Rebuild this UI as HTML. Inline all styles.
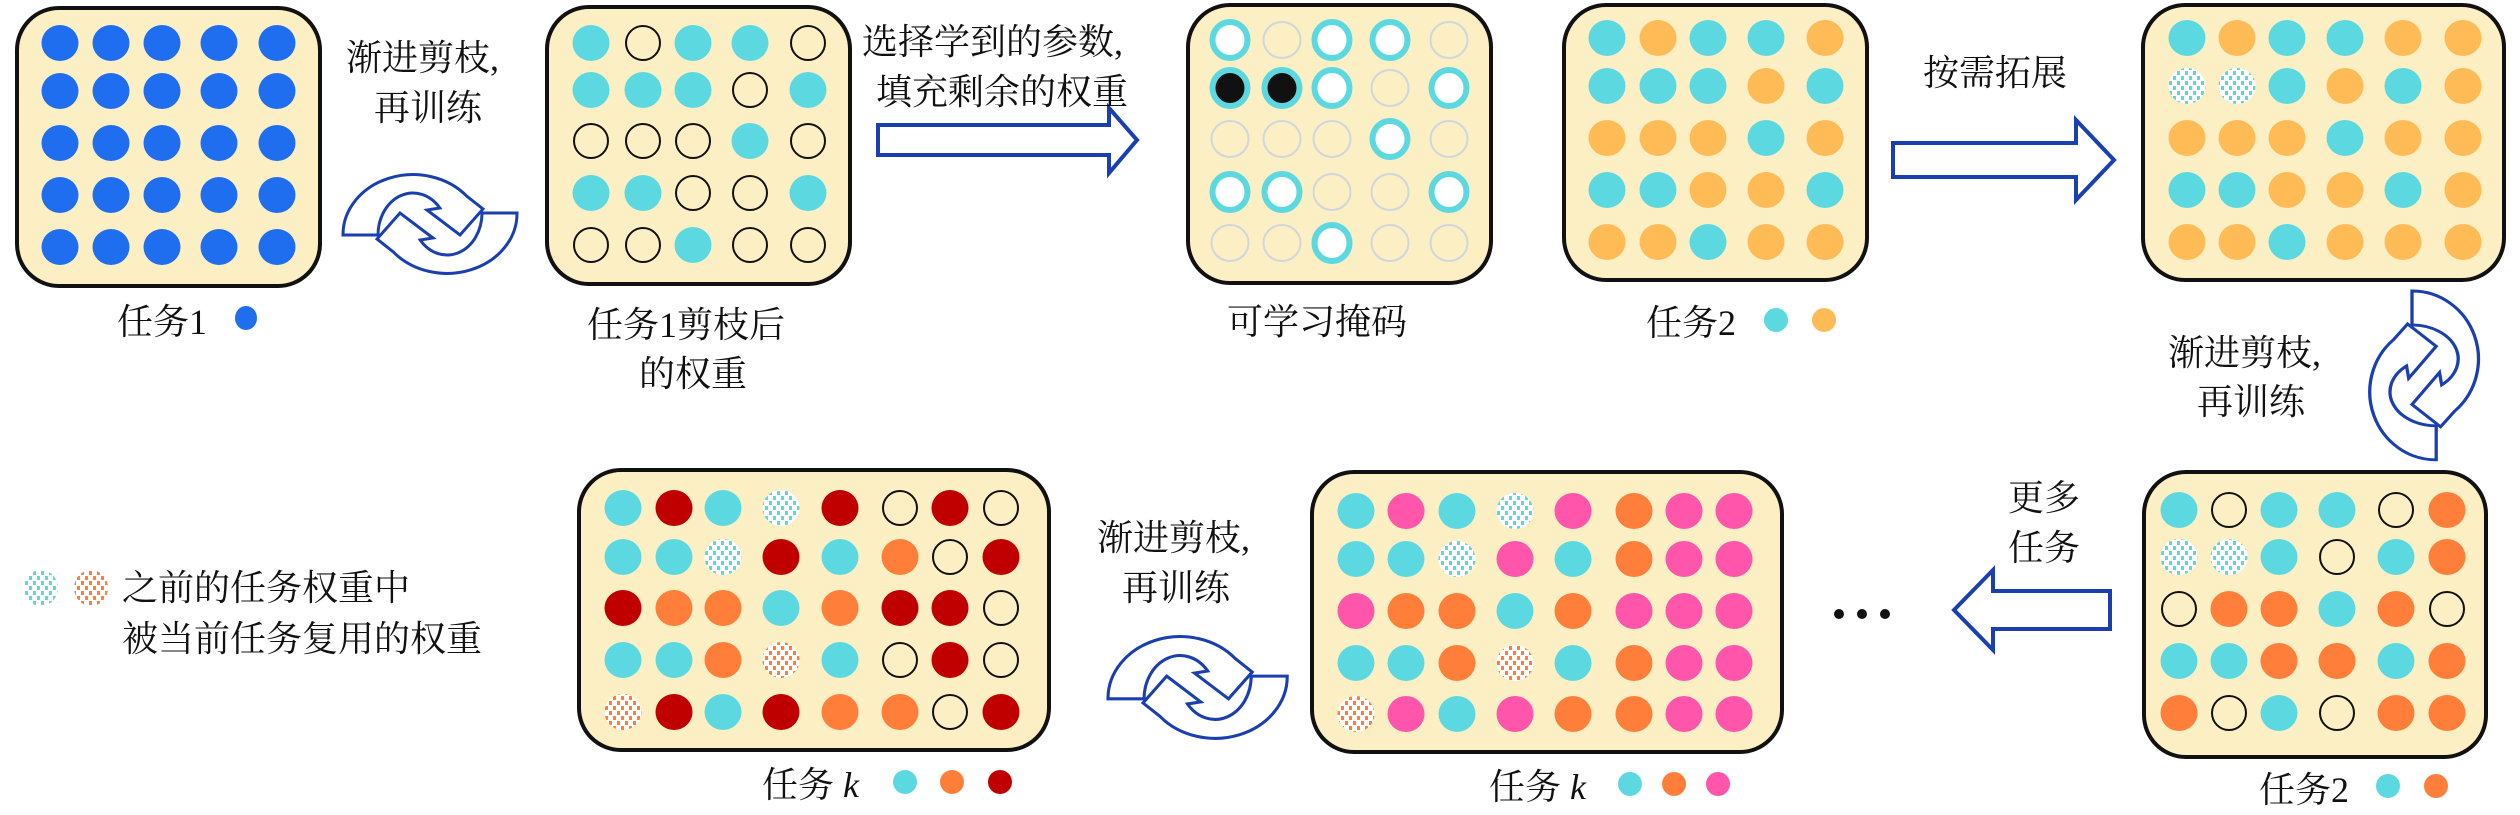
<!DOCTYPE html>
<html><head><meta charset="utf-8"><style>
html,body{margin:0;padding:0;background:#fff;}
svg{display:block;}
text{font-family:"Liberation Serif","Noto Serif CJK SC",serif;font-size:36px;fill:#111;}
</style></head><body>
<svg id="s" width="2520" height="815" viewBox="0 0 2520 815" xmlns="http://www.w3.org/2000/svg">
<defs>
<pattern id="pc" width="8" height="10" patternUnits="userSpaceOnUse"><rect width="8" height="10" fill="#fff"/><rect x="1" y="1" width="3" height="4" fill="#5cd9e0"/><rect x="5" y="6" width="3" height="4" fill="#5cd9e0"/></pattern>
<pattern id="po" width="8" height="10" patternUnits="userSpaceOnUse"><rect width="8" height="10" fill="#fff"/><rect x="1" y="1" width="3" height="4" fill="#ff7f3a"/><rect x="5" y="6" width="3" height="4" fill="#ff7f3a"/></pattern>
<g id="cyc" fill="none" stroke="#1a3fb0" stroke-width="3" stroke-linejoin="miter">
<path d="M0,60 A70,60 0 0 1 123.6,21 L140,34 L117,60 L84,35 L96.8,33 A35,42 0 0 0 35,60 Z"/>
<path transform="rotate(180 87 49)" d="M0,60 A70,60 0 0 1 123.6,21 L140,34 L117,60 L84,35 L96.8,33 A35,42 0 0 0 35,60 Z"/>
</g>
</defs>
<g fill="#fcefc4" stroke="#111" stroke-width="4">
<rect x="17" y="8" width="303" height="278" rx="42"/>
<rect x="547" y="7" width="303" height="277" rx="42"/>
<rect x="1188" y="5" width="303" height="278" rx="42"/>
<rect x="1564" y="5" width="303" height="275" rx="42"/>
<rect x="2143" y="5" width="361" height="275" rx="42"/>
<rect x="2144" y="472" width="342" height="285" rx="42"/>
<rect x="1312" y="472" width="470" height="280" rx="42"/>
<rect x="579" y="470" width="470" height="280" rx="42"/>
</g>
<g id="dots"></g>
<g fill="#fff" stroke="#1a3fb0" stroke-width="4">
<polygon points="878,125 1109,125 1109,108 1137,140 1109,173 1109,155 878,155"/>
<polygon points="1893,143 2076,143 2076,120 2114,160 2076,200 2076,177 1893,177"/>
<polygon points="2110,591 1993,591 1993,570 1954,610 1993,650 1993,629 2110,629"/>
</g>
<use href="#cyc" transform="translate(343,175)"/>
<use href="#cyc" transform="translate(1108,637) scale(1.03)"/>
<use href="#cyc" transform="translate(2478,291) rotate(90) scale(0.97,1.1)"/>
<text x="346" y="70">渐进剪枝,</text>
<text x="374" y="120">再训练</text>
<text x="117" y="334">任务1</text>
<ellipse cx="246" cy="318" rx="11" ry="12" fill="#1f6ef0"/>
<text x="587" y="337">任务1剪枝后</text>
<text x="639" y="386">的权重</text>
<text x="862" y="54">选择学到的参数,</text>
<text x="876" y="104">填充剩余的权重</text>
<text x="1227" y="334">可学习掩码</text>
<text x="1646" y="335">任务2</text>
<ellipse cx="1776" cy="320" rx="12" ry="12" fill="#5cd9e0"/>
<ellipse cx="1824" cy="320" rx="12" ry="12" fill="#ffbb55"/>
<text x="1923" y="85">按需拓展</text>
<text x="2168" y="365">渐进剪枝,</text>
<text x="2197" y="414">再训练</text>
<text x="2008" y="510">更多</text>
<text x="2008" y="560">任务</text>
<circle cx="1839" cy="614" r="5" fill="#111"/><circle cx="1862" cy="614" r="5" fill="#111"/><circle cx="1885" cy="614" r="5" fill="#111"/>
<text x="2259" y="802">任务2</text>
<ellipse cx="2388" cy="786" rx="12" ry="12" fill="#5cd9e0"/>
<ellipse cx="2436" cy="786" rx="12" ry="12" fill="#ff7f3a"/>
<text x="1489" y="799">任务 <tspan font-style="italic">k</tspan></text>
<ellipse cx="1630" cy="784" rx="12" ry="12" fill="#5cd9e0"/>
<ellipse cx="1674" cy="784" rx="12" ry="12" fill="#ff7f3a"/>
<ellipse cx="1718" cy="784" rx="12" ry="12" fill="#ff55aa"/>
<text x="1097" y="550">渐进剪枝,</text>
<text x="1122" y="600">再训练</text>
<text x="762" y="797">任务 <tspan font-style="italic">k</tspan></text>
<ellipse cx="905" cy="782" rx="12" ry="12" fill="#5cd9e0"/>
<ellipse cx="952" cy="782" rx="12" ry="12" fill="#ff7f3a"/>
<ellipse cx="1000" cy="782" rx="12" ry="12" fill="#c00000"/>
<ellipse cx="41" cy="588" rx="17" ry="18" fill="url(#pc)"/>
<ellipse cx="91" cy="588" rx="17" ry="18" fill="url(#po)"/>
<text x="122" y="600">之前的任务权重中</text>
<text x="122" y="651">被当前任务复用的权重</text>
</svg>
<script>
var NS="http://www.w3.org/2000/svg",g=document.getElementById("dots");
var col={B:"#1f6ef0",C:"#5cd9e0",Y:"#ffbb55",O:"#ff7f3a",R:"#c00000",P:"#ff55aa",K:"#111"};
function E(cx,cy,t){var e=document.createElementNS(NS,"ellipse");e.setAttribute("cx",cx);e.setAttribute("cy",cy);
var rx=18.5,ry=18;
if(t=="E"){e.setAttribute("fill","none");e.setAttribute("stroke","#111");e.setAttribute("stroke-width","2");rx=17;ry=17;}
else if(t=="L"){e.setAttribute("fill","none");e.setAttribute("stroke","#cfd6dc");e.setAttribute("stroke-width","2");}
else if(t=="W"){e.setAttribute("fill","#fff");e.setAttribute("stroke","#5cd9e0");e.setAttribute("stroke-width","6");rx=17.5;ry=18;}
else if(t=="K"){e.setAttribute("fill","#111");e.setAttribute("stroke","#5cd9e0");e.setAttribute("stroke-width","6");rx=17.5;ry=18;}
else if(t=="c"){e.setAttribute("fill","url(#pc)");}
else if(t=="o"){e.setAttribute("fill","url(#po)");}
else e.setAttribute("fill",col[t]);
e.setAttribute("rx",rx);e.setAttribute("ry",ry);g.appendChild(e);}
function grid(xs,ys,rows){rows.forEach(function(r,i){for(var j=0;j<r.length;j++)E(xs[j],ys[i],r[j]);});}
grid([60,111,162,219,277],[43,91,143,195,247],["BBBBB","BBBBB","BBBBB","BBBBB","BBBBB"]);
grid([591,643,693,750,808],[43,90,141,193,245],["CECCE","CCCEC","EEECE","CCEEC","EECEE"]);
grid([1230,1282,1332,1390,1449],[40,88,139,192,243],["WLWWL","KKWLW","LLLWL","WWLLW","LLWLL"]);
grid([1607,1658,1708,1766,1825],[38,86,138,190,242],["CYCCY","CCCYC","YYYCY","CCYYC","YYCYY"]);
grid([2187,2237,2287,2345,2403,2463],[38,86,138,190,242],["CYCCYY","ccCYCY","YYYCYY","CCYYCY","YYCYYY"]);
grid([2179,2229,2279,2337,2396,2447],[510,557,609,661,713],["CECCEO","ccCECO","EOOCOE","CCOOCO","OECEOO"]);
grid([1356,1406,1457,1515,1573,1634,1684,1734],[511,559,611,663,714],["CPCcPOPP","CCcPCOPP","POOCOPPP","CCOoCOPP","oPCPOOPP"]);
grid([623,674,723,781,840,900,950,1001],[508,557,608,660,712],["CRCcRERE","CCcRCOER","ROOCORRE","CCOoCERE","oRCROOER"]);
</script>
</body></html>
